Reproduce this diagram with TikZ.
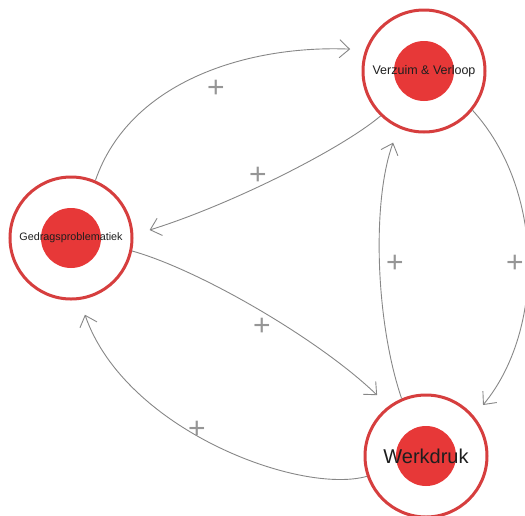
\documentclass[tikz,border=0pt]{standalone}
\usepackage{fontspec}
\setmainfont{Liberation Sans}
\usetikzlibrary{arrows.meta}
\definecolor{ringred}{RGB}{214,62,62}
\definecolor{discred}{RGB}{231,56,56}
\definecolor{edgegray}{RGB}{135,135,135}
\definecolor{plusgray}{RGB}{150,150,150}
\definecolor{txt}{RGB}{30,30,30}
\begin{document}
\begin{tikzpicture}[x=1pt,y=1pt,
  factor/.style={circle, draw=ringred, line width=3pt, fill=white, minimum size=122pt, inner sep=0pt, text=txt,
    path picture={\fill[discred] (path picture bounding box.center) circle (30pt);}},
  link/.style={draw=edgegray, line width=0.9pt, -{Straight Barb[length=10pt,width=18pt]}},
  sign/.style={text=plusgray, font=\fontsize{30}{30}\selectfont, inner sep=0pt}]
\useasboundingbox (0,0) rectangle (525,-515);
\node[factor, font=\fontsize{12.5}{14}\selectfont] (v) at (424,-71) {Verzuim \& Verloop};
\node[factor, font=\fontsize{10.8}{12}\selectfont] (g) at (71,-238) {Gedragsproblematiek};
\node[factor, font=\fontsize{20}{22}\selectfont] (w) at (426,-456) {Werkdruk};
\draw[link] (g.67.5) .. controls (130,-80) and (250,-45) .. ([shift={(163.5:77pt)}]v.center);
\draw[link] (v.226.9) .. controls (340,-150) and (230,-205) .. ([shift={(5.8:79pt)}]g.center);
\draw[link] (g.-12.3) .. controls (200,-270) and (320,-340) .. ([shift={(128.8:78pt)}]w.center);
\draw[link] (w.199.6) .. controls (300,-495) and (125,-430) .. ([shift={(280.3:78pt)}]g.center);
\draw[link] (w.113.8) .. controls (375,-320) and (372,-200) .. ([shift={(246.7:78pt)}]v.center);
\draw[link] (v.-39) .. controls (545,-190) and (545,-330) .. ([shift={(41.8:76.5pt)}]w.center);
\node[sign] (p1) at (216,-89) {+};
\node[sign] (p2) at (258,-176) {+};
\node[sign] (p3) at (262,-327) {+};
\node[sign] (p4) at (197,-430) {+};
\node[sign] (p5) at (395,-264) {+};
\node[sign] (p6) at (515,-264) {+};
\end{tikzpicture}
\end{document}
